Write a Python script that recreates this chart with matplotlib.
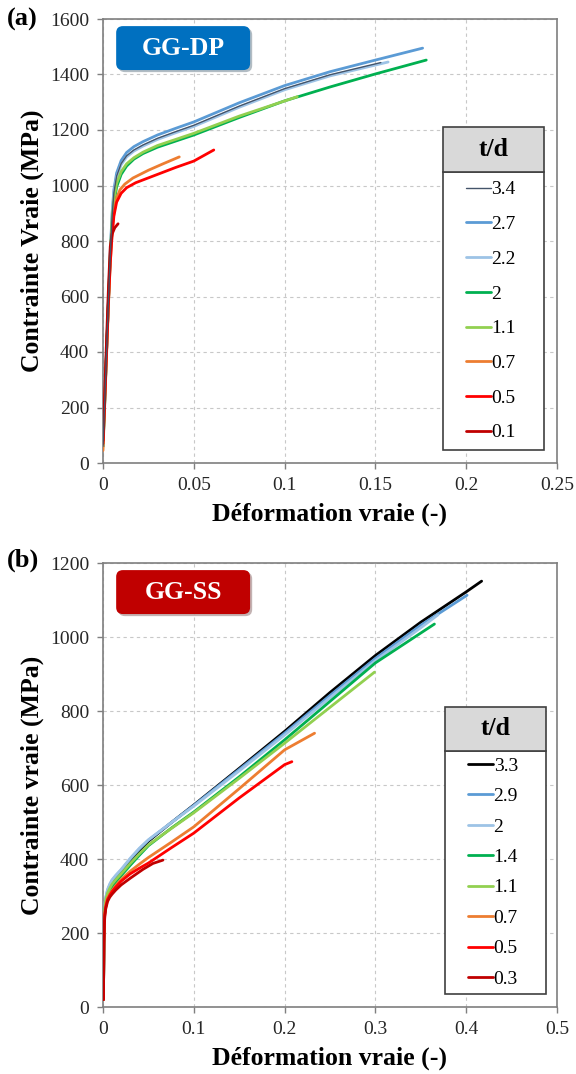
import matplotlib.pyplot as plt
import matplotlib.patheffects as pe
from matplotlib.patches import FancyBboxPatch, Rectangle
from matplotlib.ticker import FuncFormatter

plt.rcParams['font.family'] = ['Liberation Serif', 'DejaVu Serif']

# ---- (a) GG-DP : true strain / true stress ----
dp_labels = ['3.4', '2.7', '2.2', '2', '1.1', '0.7', '0.5', '0.1']
dp_colors = ['#44546A', '#5B9BD5', '#9DC3E6', '#00B050', '#92D050', '#ED7D31', '#FF0000', '#C00000']

dp_34_x = [0, 0.001, 0.002, 0.003, 0.004, 0.005, 0.006, 0.0075, 0.01, 0.013, 0.017, 0.022, 0.03, 0.04, 0.05, 0.075, 0.1, 0.125, 0.153]
dp_34_y = [60, 230, 410, 586, 752, 888, 974, 1034, 1079, 1107, 1128, 1146, 1170, 1194, 1217, 1286, 1349, 1399, 1443]
dp_27_x = [0, 0.001, 0.002, 0.003, 0.004, 0.005, 0.006, 0.0075, 0.01, 0.013, 0.017, 0.022, 0.03, 0.04, 0.05, 0.075, 0.1, 0.125, 0.15, 0.176]
dp_27_y = [60, 230, 410, 590, 760, 900, 985, 1045, 1090, 1119, 1140, 1158, 1182, 1206, 1229, 1298, 1360, 1410, 1452, 1495]
dp_22_x = [0, 0.001, 0.002, 0.003, 0.004, 0.005, 0.006, 0.0075, 0.01, 0.013, 0.017, 0.022, 0.03, 0.04, 0.05, 0.075, 0.1, 0.125, 0.157]
dp_22_y = [60, 230, 410, 585, 750, 885, 970, 1030, 1075, 1103, 1124, 1142, 1166, 1190, 1213, 1282, 1345, 1395, 1445]
dp_2_x = [0, 0.001, 0.002, 0.003, 0.004, 0.005, 0.006, 0.0075, 0.01, 0.013, 0.017, 0.022, 0.03, 0.04, 0.05, 0.075, 0.1, 0.125, 0.15, 0.178]
dp_2_y = [60, 230, 410, 580, 740, 860, 935, 995, 1040, 1070, 1095, 1115, 1138, 1160, 1182, 1245, 1305, 1355, 1402, 1452]
dp_11_x = [0, 0.001, 0.002, 0.003, 0.004, 0.005, 0.006, 0.0075, 0.01, 0.013, 0.017, 0.022, 0.03, 0.04, 0.05, 0.075, 0.107]
dp_11_y = [60, 230, 410, 585, 750, 875, 950, 1008, 1050, 1078, 1100, 1120, 1144, 1166, 1188, 1250, 1320]
dp_07_x = [0, 0.001, 0.002, 0.003, 0.004, 0.005, 0.006, 0.0075, 0.0094, 0.012, 0.0165, 0.025, 0.033, 0.042]
dp_07_y = [45, 220, 395, 570, 720, 830, 900, 955, 985, 1005, 1027, 1055, 1078, 1103]
dp_05_x = [0, 0.001, 0.002, 0.003, 0.004, 0.005, 0.006, 0.0075, 0.01, 0.013, 0.018, 0.026, 0.04, 0.05, 0.061]
dp_05_y = [70, 240, 410, 580, 720, 820, 890, 940, 972, 992, 1010, 1030, 1065, 1088, 1128]
dp_01_x = [0, 0.001, 0.002, 0.003, 0.004, 0.005, 0.0065, 0.0083]
dp_01_y = [80, 260, 450, 630, 780, 825, 848, 862]

dp_x = [dp_34_x, dp_27_x, dp_22_x, dp_2_x, dp_11_x, dp_07_x, dp_05_x, dp_01_x]
dp_y = [dp_34_y, dp_27_y, dp_22_y, dp_2_y, dp_11_y, dp_07_y, dp_05_y, dp_01_y]

# ---- (b) GG-SS ----
ss_labels = ['3.3', '2.9', '2', '1.4', '1.1', '0.7', '0.5', '0.3']
ss_colors = ['#000000', '#5B9BD5', '#9DC3E6', '#00B050', '#92D050', '#ED7D31', '#FF0000', '#C00000']

ss_33_x = [0.0005, 0.001, 0.0015, 0.002, 0.003, 0.005, 0.0075, 0.01, 0.014, 0.02, 0.03, 0.04, 0.05, 0.075, 0.1, 0.15, 0.2, 0.25, 0.3, 0.35, 0.4, 0.417]
ss_33_y = [20, 180, 235, 262, 285, 305, 320, 332, 346, 363, 395, 423, 448, 498, 546, 645, 745, 850, 950, 1040, 1122, 1151]
ss_29_x = [0.0005, 0.001, 0.0015, 0.002, 0.003, 0.005, 0.0075, 0.01, 0.014, 0.02, 0.03, 0.04, 0.05, 0.075, 0.1, 0.15, 0.2, 0.25, 0.3, 0.35, 0.401]
ss_29_y = [20, 190, 245, 272, 295, 315, 330, 342, 354, 370, 400, 427, 451, 498, 545, 642, 740, 842, 942, 1032, 1113]
ss_2_x = [0.0005, 0.001, 0.0015, 0.002, 0.003, 0.005, 0.0075, 0.01, 0.014, 0.02, 0.03, 0.04, 0.05, 0.075, 0.1, 0.15, 0.2, 0.25, 0.3, 0.35, 0.369]
ss_2_y = [20, 190, 245, 272, 296, 318, 333, 344, 356, 372, 402, 429, 452, 498, 543, 638, 735, 836, 936, 1025, 1060]
ss_14_x = [0.0005, 0.001, 0.0015, 0.002, 0.003, 0.005, 0.0075, 0.01, 0.014, 0.02, 0.03, 0.04, 0.05, 0.075, 0.1, 0.15, 0.2, 0.25, 0.3, 0.365]
ss_14_y = [20, 185, 238, 262, 282, 300, 314, 325, 338, 355, 383, 410, 436, 483, 527, 622, 722, 826, 930, 1035]
ss_11_x = [0.0005, 0.001, 0.0015, 0.002, 0.003, 0.005, 0.0075, 0.01, 0.014, 0.02, 0.03, 0.04, 0.05, 0.075, 0.1, 0.15, 0.2, 0.25, 0.299]
ss_11_y = [20, 185, 240, 266, 290, 308, 321, 332, 344, 360, 388, 414, 438, 482, 525, 618, 713, 810, 905]
ss_07_x = [0.0005, 0.001, 0.0015, 0.002, 0.003, 0.005, 0.0075, 0.01, 0.014, 0.02, 0.03, 0.04, 0.05, 0.075, 0.1, 0.15, 0.2, 0.233]
ss_07_y = [20, 180, 232, 255, 275, 295, 306, 315, 328, 345, 367, 386, 404, 445, 487, 590, 695, 740]
ss_05_x = [0.0005, 0.001, 0.0015, 0.002, 0.003, 0.005, 0.0075, 0.01, 0.014, 0.02, 0.03, 0.04, 0.05, 0.075, 0.1, 0.15, 0.2, 0.208]
ss_05_y = [20, 175, 228, 250, 270, 290, 302, 312, 324, 340, 360, 375, 389, 430, 470, 565, 655, 663]
ss_03_x = [0.0005, 0.001, 0.0015, 0.002, 0.003, 0.005, 0.0075, 0.01, 0.014, 0.02, 0.03, 0.044, 0.055, 0.066]
ss_03_y = [20, 170, 222, 245, 265, 285, 297, 305, 316, 330, 348, 372, 388, 397]

ss_x = [ss_33_x, ss_29_x, ss_2_x, ss_14_x, ss_11_x, ss_07_x, ss_05_x, ss_03_x]
ss_y = [ss_33_y, ss_29_y, ss_2_y, ss_14_y, ss_11_y, ss_07_y, ss_05_y, ss_03_y]


def style_axes(ax, xmax, xstep, ymax, ystep):
    ax.set_xlim(0, xmax)
    ax.set_ylim(0, ymax)
    n = int(round(xmax / xstep))
    ax.set_xticks([i * xstep for i in range(n + 1)])
    ax.set_yticks(range(0, ymax + 1, ystep))
    ax.xaxis.set_major_formatter(FuncFormatter(lambda v, p: '%g' % round(v, 3)))
    ax.grid(True, color='#C8C8C8', linestyle=(0, (3, 3)), linewidth=0.8)
    ax.set_axisbelow(True)
    for s in ax.spines.values():
        s.set_color('#7F7F7F')
        s.set_linewidth(1.2)
    ax.tick_params(direction='out', length=4, width=1, color='#7F7F7F',
                   labelsize=14, labelcolor='#262626', pad=6)
    ax.set_xlabel('Déformation vraie (-)', fontsize=18.5, fontweight='bold', labelpad=6)


def tag_box(ax, text, color):
    box = FancyBboxPatch((0.029, 0.885), 0.295, 0.099, transform=ax.transAxes,
                         boxstyle='round,pad=0,rounding_size=0.015',
                         facecolor=color, edgecolor='none', zorder=6,
                         path_effects=[pe.SimplePatchShadow(offset=(1.5, -1.5), alpha=0.3), pe.Normal()])
    ax.add_patch(box)
    ax.text(0.029 + 0.295 / 2, 0.885 + 0.099 / 2, text, transform=ax.transAxes,
            ha='center', va='center', color='white', fontsize=18.5, fontweight='bold', zorder=7)


def legend_box(ax, lines, x0, x1, yh0, yh1, yb, spacing):
    ax.add_patch(Rectangle((x0, yb), x1 - x0, yh0 - yb, transform=ax.transAxes,
                           facecolor='white', edgecolor='#404040', linewidth=1.2, zorder=8))
    ax.add_patch(Rectangle((x0, yh0), x1 - x0, yh1 - yh0, transform=ax.transAxes,
                           facecolor='#D9D9D9', edgecolor='#404040', linewidth=1.2, zorder=8))
    ax.text((x0 + x1) / 2, (yh0 + yh1) / 2, 't/d', transform=ax.transAxes, ha='center',
            va='center', fontsize=18.5, fontweight='bold', zorder=9)
    leg = ax.legend(handles=lines, loc='center', bbox_to_anchor=((x0 + x1) / 2 - 0.005, (yh0 + yb) / 2),
                    frameon=False, fontsize=14, handlelength=1.25, handletextpad=0.05,
                    labelspacing=spacing, borderpad=0)
    leg.set_zorder(10)


fig = plt.figure(figsize=(5.76, 10.74), dpi=100)
ax1 = fig.add_axes([103 / 576, 1 - 463 / 1074, 454 / 576, 444 / 1074])
ax2 = fig.add_axes([103 / 576, 1 - 1007 / 1074, 454 / 576, 444 / 1074])

# (a)
lines1 = []
for xs, ys, lab, col in zip(dp_x, dp_y, dp_labels, dp_colors):
    lw = 1.0 if lab == '3.4' else 2.0
    z = 3.6 if lab == '3.4' else 3
    ln, = ax1.plot(xs, ys, color=col, lw=lw, label=lab, zorder=z, solid_capstyle='round')
    lines1.append(ln)
style_axes(ax1, 0.25, 0.05, 1600, 200)
ax1.set_ylabel('Contrainte Vraie (MPa)', fontsize=18.5, fontweight='bold', labelpad=4)
tag_box(ax1, 'GG-DP', '#0070C0')
legend_box(ax1, lines1, 0.749, 0.971, 0.655, 0.757, 0.029, 0.88)
fig.text(0.012, 0.993, '(a)', fontsize=19, fontweight='bold', va='top')

# (b)
lines2 = []
for xs, ys, lab, col in zip(ss_x, ss_y, ss_labels, ss_colors):
    ln, = ax2.plot(xs, ys, color=col, lw=2.0, label=lab, zorder=3, solid_capstyle='round')
    lines2.append(ln)
style_axes(ax2, 0.5, 0.1, 1200, 200)
ax2.set_ylabel('Contrainte vraie (MPa)', fontsize=18.5, fontweight='bold', labelpad=4)
tag_box(ax2, 'GG-SS', '#C00000')
legend_box(ax2, lines2, 0.753, 0.976, 0.577, 0.676, 0.029, 0.66)
fig.text(0.012, 0.489, '(b)', fontsize=19, fontweight='bold', va='top')

fig.savefig('out.png', dpi=100)
